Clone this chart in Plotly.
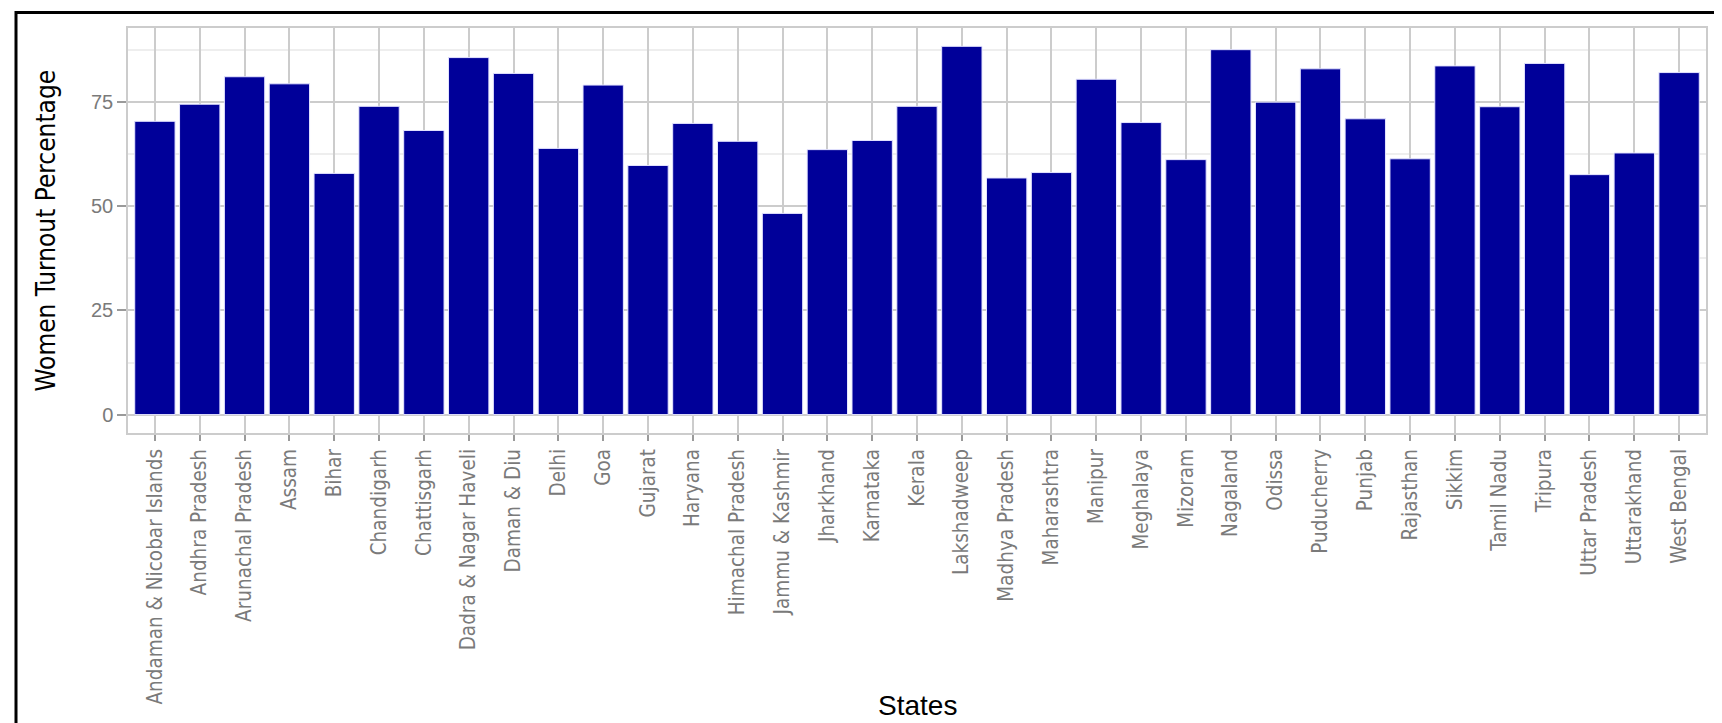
import plotly.graph_objects as go

states = ["Andaman & Nicobar Islands", "Andhra Pradesh", "Arunachal Pradesh", "Assam", "Bihar",
          "Chandigarh", "Chattisgarh", "Dadra & Nagar Haveli", "Daman & Diu", "Delhi", "Goa",
          "Gujarat", "Haryana", "Himachal Pradesh", "Jammu & Kashmir", "Jharkhand", "Karnataka",
          "Kerala", "Lakshadweep", "Madhya Pradesh", "Maharashtra", "Manipur", "Meghalaya",
          "Mizoram", "Nagaland", "Odissa", "Puducherry", "Punjab", "Rajasthan", "Sikkim",
          "Tamil Nadu", "Tripura", "Uttar Pradesh", "Uttarakhand", "West Bengal"]
turnout = [70.4, 74.5, 81.1, 79.4, 57.9, 74.0, 68.2, 85.7, 81.9, 63.9, 79.1, 59.8, 69.9, 65.6,
           48.3, 63.6, 65.8, 74.0, 88.4, 56.8, 58.1, 80.5, 70.1, 61.2, 87.6, 75.0, 83.0, 71.0,
           61.4, 83.7, 73.9, 84.3, 57.6, 62.8, 82.1]
y_ticks = [0, 25, 50, 75]

W, H = 1722, 723
L, R, T, B = 120, 24, 20, 298
pw, ph = W - L - R, H - T - B

narrow = "Liberation Sans Narrow, Arial Narrow, DejaVu Sans Condensed, Liberation Sans, Arial"


def px_x(v):
    return (v - L) / pw


def px_y(v):
    return (H - B - v) / ph


fig = go.Figure(go.Bar(
    x=states, y=turnout, width=0.9,
    marker=dict(color="#000099", line=dict(color="#e4e4ff", width=1)),
))

fig.update_layout(
    width=W, height=H,
    margin=dict(l=L, r=R, t=T, b=B, autoexpand=False),
    paper_bgcolor="white", plot_bgcolor="white",
    showlegend=False, bargap=0.1,
    xaxis=dict(
        type="category", range=[-0.6, len(states) - 0.4],
        tickangle=-90, tickfont=dict(family=narrow, size=20.5, color="#7a7a7a"),
        ticks="outside", ticklen=6, tickcolor="#9a9a9a", tickwidth=1.5,
        showgrid=True, gridcolor="#cccccc", gridwidth=1.5,
        showline=True, linecolor="#cccccc", linewidth=1.5, mirror=True,
        zeroline=False, automargin=False,
    ),
    yaxis=dict(
        range=[-4.42, 92.8], tickvals=y_ticks,
        tickfont=dict(family="Liberation Sans, Arial", size=20, color="#7a7a7a"),
        ticks="outside", ticklen=9, tickcolor="#9a9a9a", tickwidth=1.5,
        showgrid=True, gridcolor="#cccccc", gridwidth=1.5,
        minor=dict(dtick=12.5, tick0=0, showgrid=True, gridcolor="#eeeeee", gridwidth=1.5),
        showline=True, linecolor="#cccccc", linewidth=1.5, mirror=True,
        zeroline=False, automargin=False,
    ),
    annotations=[
        dict(text="States", xref="paper", yref="paper", x=0.5, y=px_y(697),
             xanchor="center", yanchor="middle", showarrow=False,
             font=dict(family="Liberation Sans, Arial", size=28, color="black")),
        dict(text="Women Turnout Percentage", xref="paper", yref="paper", x=px_x(37), y=0.5,
             xanchor="center", yanchor="middle", showarrow=False, textangle=-90,
             font=dict(family=narrow, size=26, color="black")),
    ],
)

# outer frame (top and left edge of the figure border)
fig.add_shape(type="line", xref="paper", yref="paper", x0=px_x(7), x1=px_x(W + 5),
              y0=px_y(4.5), y1=px_y(4.5), line=dict(color="black", width=3))
fig.add_shape(type="line", xref="paper", yref="paper", x0=px_x(8), x1=px_x(8),
              y0=px_y(3), y1=px_y(H + 5), line=dict(color="black", width=3))

fig.write_html("out.html")
